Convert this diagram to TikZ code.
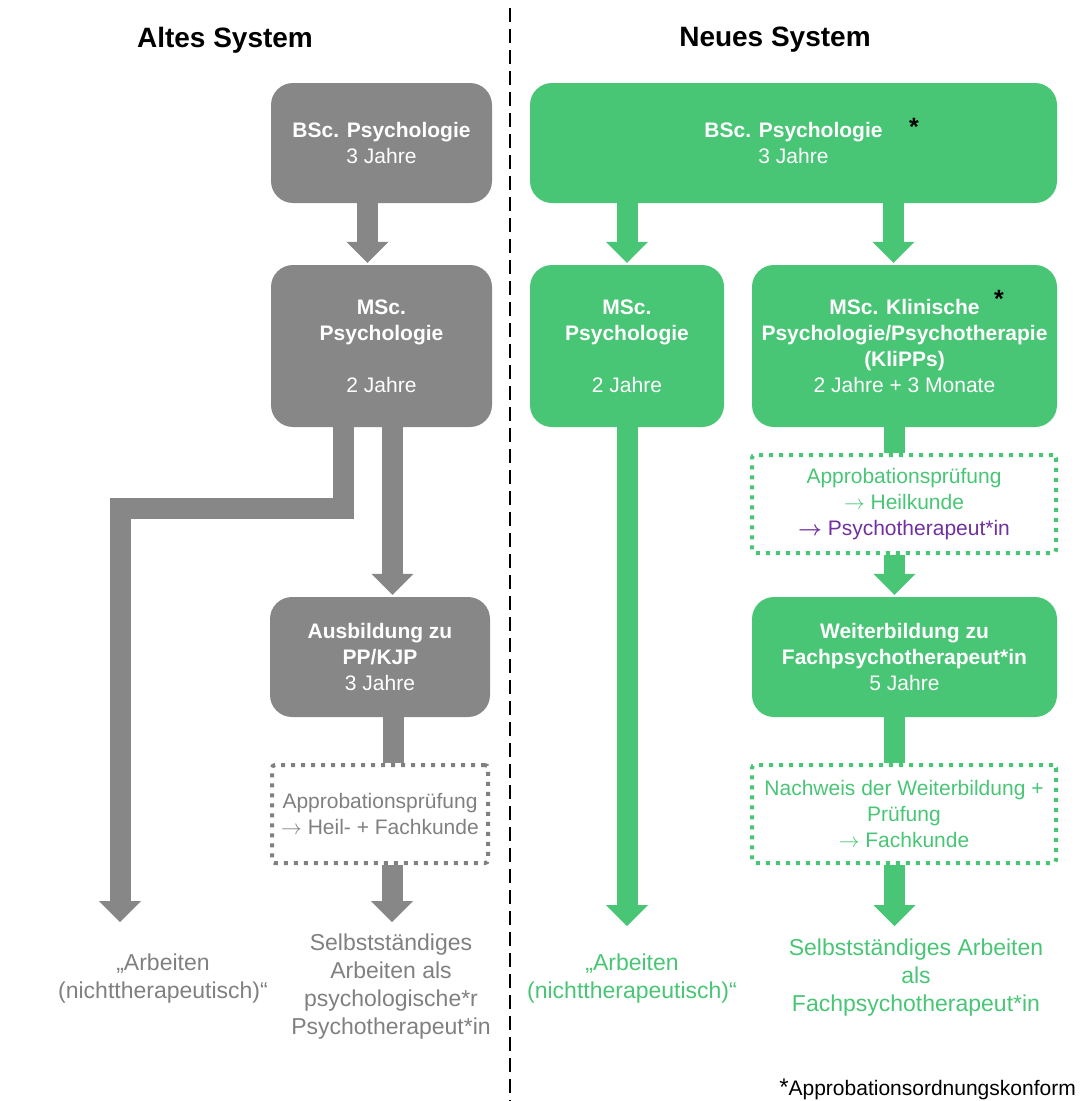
\documentclass[tikz,border=0pt]{standalone}
\usepackage{fontspec}
\setmainfont{Liberation Sans}
\usetikzlibrary{arrows.meta}
\definecolor{boxgray}{RGB}{135,135,135}
\definecolor{txtgray}{RGB}{128,128,128}
\definecolor{boxgreen}{RGB}{72,197,117}
\definecolor{lilac}{RGB}{112,48,160}
\newcommand{\pfeil}{\ensuremath{\rightarrow}}
\begin{document}
\begin{tikzpicture}[x=1pt,y=-1pt,
  box/.style={rounded corners=22pt, inner sep=0pt, align=center, text=white,
              font=\fontsize{21}{26}\selectfont},
  graybox/.style={box, fill=boxgray},
  greenbox/.style={box, fill=boxgreen},
  dotbox/.style={draw=#1, line width=4pt, dash pattern=on 4pt off 6pt,
                 rounded corners=3pt, inner sep=0pt, align=center, text=#1,
                 font=\fontsize{21}{26}\selectfont},
  endtext/.style={align=center, text=#1, font=\fontsize{23}{28}\selectfont},
  blockarrow/.style={draw=#1, line width=21pt,
                     -{Triangle[width=42pt,length=21pt,line width=0pt]}},
  blockline/.style={draw=#1, line width=21pt},
  title/.style={font=\fontsize{28}{34}\selectfont\bfseries}]
\useasboundingbox (0,0) rectangle (1083,1101);

% titles and separator
\node[title] (altT) at (225,40) {Altes System};
\node[title] (neuT) at (775,40) {Neues System};
\coordinate (sepTop) at (510,8);
\coordinate (sepBot) at (510,1101);
\draw[line width=2.5pt, dash pattern=on 14pt off 7pt] (sepTop) -- (sepBot);

% old system
\node[graybox, minimum width=221pt, minimum height=120pt] (bscA) at (381.5,143)
    {\textbf{BSc. Psychologie}\\3 Jahre};
\node[graybox, minimum width=221pt, minimum height=162pt] (mscA) at (381.5,346)
    {\textbf{MSc.}\\\textbf{Psychologie}\\[26pt]2 Jahre};
\node[graybox, minimum width=220pt, minimum height=120pt] (ausA) at (380,657)
    {\textbf{Ausbildung zu}\\\textbf{PP/KJP}\\3 Jahre};
\node[dotbox=txtgray, minimum width=216pt, minimum height=98pt] (pruefA) at (380,814)
    {Approbationsprüfung\\\pfeil{} Heil- + Fachkunde};

% new system
\node[greenbox, minimum width=527pt, minimum height=120pt] (bscN) at (793.5,143)
    {\textbf{BSc. Psychologie}\\3 Jahre};
\node[greenbox, minimum width=194pt, minimum height=162pt] (mscN) at (627,346)
    {\textbf{MSc.}\\\textbf{Psychologie}\\[26pt]2 Jahre};
\node[greenbox, minimum width=305pt, minimum height=162pt] (klipN) at (904.5,346)
    {\textbf{MSc. Klinische}\\\textbf{Psychologie/Psychotherapie}\\\textbf{(KliPPs)}\\2 Jahre + 3 Monate};
\node[dotbox=boxgreen, minimum width=304pt, minimum height=98pt] (approbN) at (904,504)
    {Approbationsprüfung\\\pfeil{} Heilkunde\\\textcolor{lilac}{{\boldmath\pfeil} Psychotherapeut*in}};
\node[greenbox, minimum width=305pt, minimum height=120pt] (weitN) at (904.5,657)
    {\textbf{Weiterbildung zu}\\\textbf{Fachpsychotherapeut*in}\\5 Jahre};
\node[dotbox=boxgreen, minimum width=304pt, minimum height=98pt] (nachwN) at (904,814)
    {Nachweis der Weiterbildung +\\Prüfung\\\pfeil{} Fachkunde};

% stars
\node[font=\fontsize{25}{28}\selectfont\bfseries, inner sep=0pt] (starB) at (914,127) {*};
\node[font=\fontsize{25}{28}\selectfont\bfseries, inner sep=0pt] (starK) at (999,299) {*};

% end texts
\node[endtext=txtgray] (endA1) at (163,979) {„Arbeiten\\(nichttherapeutisch)“};
\node[endtext=txtgray] (endA2) at (391,987)
    {Selbstständiges\\Arbeiten als\\psychologische*r\\Psychotherapeut*in};
\node[endtext=boxgreen] (endN1) at (632,979) {„Arbeiten\\(nichttherapeutisch)“};
\node[endtext=boxgreen] (endN2) at (916,978)
    {Selbstständiges Arbeiten\\als\\Fachpsychotherapeut*in};

% arrow lanes and free arrow ends
\coordinate (laneA1) at ([xshift=-14pt]bscA.south);
\coordinate (laneA2) at ([xshift=11pt]mscA.south);
\coordinate (laneA3) at ([xshift=-38pt]mscA.south);
\coordinate (laneA4) at ([xshift=13pt]ausA.south);
\coordinate (laneN1) at (mscN.north |- bscN.south);
\coordinate (laneN2) at ([xshift=-11pt]klipN.north |- bscN.south);
\coordinate (laneN3) at ([xshift=-10pt]klipN.south);
\coordinate (tipA1) at (120,922);
\coordinate (tipA2) at (392,922);
\coordinate (tipN1) at (627,926);
\coordinate (tipN2) at (laneN3 |- 0,926);

% connectors, old system
\draw[blockarrow=boxgray, shorten >=2pt] (laneA1) -- (laneA1 |- mscA.north);
\draw[blockarrow=boxgray, shorten >=2pt] (laneA2) -- (laneA2 |- ausA.north);
\draw[blockarrow=boxgray, line join=miter] (laneA3) -- ++(0,81) -| (tipA1);
\draw[blockline=boxgray] (laneA4) -- (laneA4 |- pruefA.north);
\draw[blockarrow=boxgray] (tipA2 |- pruefA.south) -- (tipA2);

% connectors, new system
\draw[blockarrow=boxgreen, shorten >=2pt] (laneN1) -- (mscN.north);
\draw[blockarrow=boxgreen, shorten >=2pt] (laneN2) -- (laneN2 |- klipN.north);
\draw[blockarrow=boxgreen] (mscN.south) -- (tipN1);
\draw[blockline=boxgreen] (laneN3) -- (laneN3 |- approbN.north);
\draw[blockarrow=boxgreen, shorten >=2pt] (laneN3 |- approbN.south) -- (laneN3 |- weitN.north);
\draw[blockline=boxgreen] (laneN3 |- weitN.south) -- (laneN3 |- nachwN.north);
\draw[blockarrow=boxgreen] (laneN3 |- nachwN.south) -- (tipN2);

% footnote
\node[anchor=base east, font=\fontsize{21}{26}\selectfont, inner sep=0pt] (fnote) at (1076,1095)
    {{\fontsize{24}{26}\selectfont*}Approbationsordnungskonform};
\end{tikzpicture}
\end{document}
